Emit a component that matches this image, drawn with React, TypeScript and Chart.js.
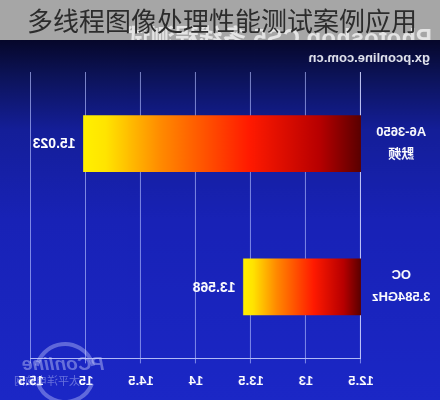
import { useEffect, useRef } from "react";
import { Chart, registerables } from "chart.js";

Chart.register(...registerables);

// Benchmark scores (lower is better), one bar per CPU setting
const categories: string[][] = [["A6-3650", "默频"], ["OC", "3.584GHz"]];
const scores: number[] = [15.023, 13.568];
const axisMin = 12.5;
const axisMax = 15.5;
const axisStep = 0.5;

const pageTitle = "多线程图像处理性能测试案例应用";
const bannerText = "Photoshop CS5 多线程测试";
const sourceText = "gx.pconline.com.cn";
const logoText = "PConline";
const logoSub = "太平洋电脑网";

const W = 440;
const H = 400;
const BAND = 40;

// Paints the backdrop, header band, source line and logo watermark
const backdropPlugin = {
  id: "backdrop",
  beforeDraw(chart: Chart) {
    const ctx = chart.ctx;
    ctx.save();
    const g = ctx.createLinearGradient(0, BAND, 0, H);
    g.addColorStop(0, "#06072a");
    g.addColorStop(0.1, "#0c1358");
    g.addColorStop(0.25, "#141e98");
    g.addColorStop(0.5, "#1822b6");
    g.addColorStop(1, "#1b27c6");
    ctx.fillStyle = g;
    ctx.fillRect(0, BAND, W, H - BAND);

    ctx.fillStyle = "#a6a6a6";
    ctx.fillRect(0, 0, W, BAND);
    ctx.beginPath();
    ctx.rect(0, 0, W, BAND);
    ctx.clip();
    ctx.fillStyle = "rgba(255,255,255,0.7)";
    ctx.font = "bold 24px 'Liberation Sans', 'Noto Sans CJK SC'";
    ctx.textBaseline = "alphabetic";
    ctx.textAlign = "left";
    ctx.fillText(bannerText, 8, 46);
    ctx.restore();

    ctx.save();
    ctx.fillStyle = "#e4e6f0";
    ctx.font = "bold 13px 'Liberation Sans'";
    ctx.textBaseline = "middle";
    ctx.textAlign = "left";
    ctx.fillText(sourceText, 10, 58);
    ctx.restore();
  },
  afterDraw(chart: Chart) {
    const ctx = chart.ctx;
    ctx.save();
    ctx.globalAlpha = 0.4;
    ctx.strokeStyle = "#c8ccff";
    ctx.lineWidth = 4;
    ctx.beginPath();
    ctx.arc(375, 373, 29, Math.PI * 1.08, Math.PI * 1.92);
    ctx.stroke();
    ctx.beginPath();
    ctx.arc(375, 373, 29, Math.PI * 0.12, Math.PI * 0.88);
    ctx.stroke();
    ctx.fillStyle = "#dadeff";
    ctx.font = "bold italic 19px 'Liberation Sans'";
    ctx.textAlign = "center";
    ctx.textBaseline = "middle";
    ctx.fillText(logoText, 377, 365);
    ctx.font = "11px 'Noto Sans CJK SC'";
    ctx.fillText(logoSub, 393, 381);
    ctx.restore();
  },
};

// Writes each score just past the end of its bar
const valueLabelPlugin = {
  id: "valueLabels",
  afterDatasetsDraw(chart: Chart) {
    const ctx = chart.ctx;
    const meta = chart.getDatasetMeta(0);
    ctx.save();
    ctx.fillStyle = "#ffffff";
    ctx.font = "bold 14px 'Liberation Sans'";
    ctx.textAlign = "left";
    ctx.textBaseline = "middle";
    meta.data.forEach((el: any, i: number) => {
      ctx.fillText(scores[i].toFixed(3), el.x + 8, el.y + 1);
    });
    ctx.restore();
  },
};

export default function App() {
  const ref = useRef<HTMLCanvasElement | null>(null);

  useEffect(() => {
    document.body.style.margin = "0";
    const canvas = ref.current;
    if (!canvas) return;
    const chart = new Chart(canvas, {
      type: "bar",
      data: {
        labels: categories,
        datasets: [
          {
            data: scores,
            barThickness: 56,
            borderWidth: 0,
            backgroundColor: (c: any) => {
              const ch = c.chart;
              const xs = ch.scales && ch.scales.x;
              if (!ch.chartArea || !xs) return "#ff3000";
              const x0 = xs.getPixelForValue(axisMin);
              const x1 = xs.getPixelForValue(c.raw as number);
              const g = ch.ctx.createLinearGradient(x0, 0, x1, 0);
              g.addColorStop(0, "#5a0000");
              g.addColorStop(0.15, "#b80000");
              g.addColorStop(0.4, "#ff1a00");
              g.addColorStop(0.72, "#ff8a00");
              g.addColorStop(0.92, "#ffe400");
              g.addColorStop(1, "#fff000");
              return g;
            },
          },
        ],
      },
      options: {
        indexAxis: "y",
        responsive: false,
        animation: false,
        devicePixelRatio: 1,
        layout: { padding: { top: 72, left: 10, right: 31, bottom: 1 } },
        plugins: {
          legend: { display: false },
          tooltip: { enabled: false },
        },
        scales: {
          x: {
            type: "linear",
            min: axisMin,
            max: axisMax,
            ticks: {
              stepSize: axisStep,
              color: "#ffffff",
              font: { family: "'Liberation Sans'", size: 13, weight: "bold" },
              padding: 10,
              callback: (v: any) => String(Number(v)),
            },
            grid: {
              color: "rgba(180,190,255,0.65)",
              lineWidth: 1,
              tickLength: 5,
            },
            border: { color: "rgba(205,212,255,0.85)" },
          },
          y: {
            type: "category",
            grid: { display: false },
            border: { color: "rgba(210,215,255,0.85)" },
            ticks: {
              color: "#ffffff",
              crossAlign: "center",
              font: { family: "'Liberation Sans', 'Noto Sans CJK SC'", size: 13, weight: "bold", lineHeight: 1.7 },
            },
            afterFit: (s: any) => {
              s.width = 69;
            },
          },
        },
      } as any,
      plugins: [backdropPlugin, valueLabelPlugin],
    });
    return () => chart.destroy();
  }, []);

  return (
    <div style={{ position: "fixed", left: 0, top: 0, width: W, height: H, overflow: "hidden" }}>
      <canvas
        ref={ref}
        width={W}
        height={H}
        style={{ display: "block", width: W, height: H, transform: "scaleX(-1)" }}
      />
      <div
        style={{
          position: "absolute",
          left: 0,
          top: 0,
          width: W,
          height: BAND,
          lineHeight: `${BAND}px`,
          paddingLeft: 27,
          boxSizing: "border-box",
          fontFamily: "'Noto Sans CJK SC', sans-serif",
          fontSize: 26,
          color: "#2c2c2c",
          whiteSpace: "nowrap",
        }}
      >
        {pageTitle}
      </div>
    </div>
  );
}
